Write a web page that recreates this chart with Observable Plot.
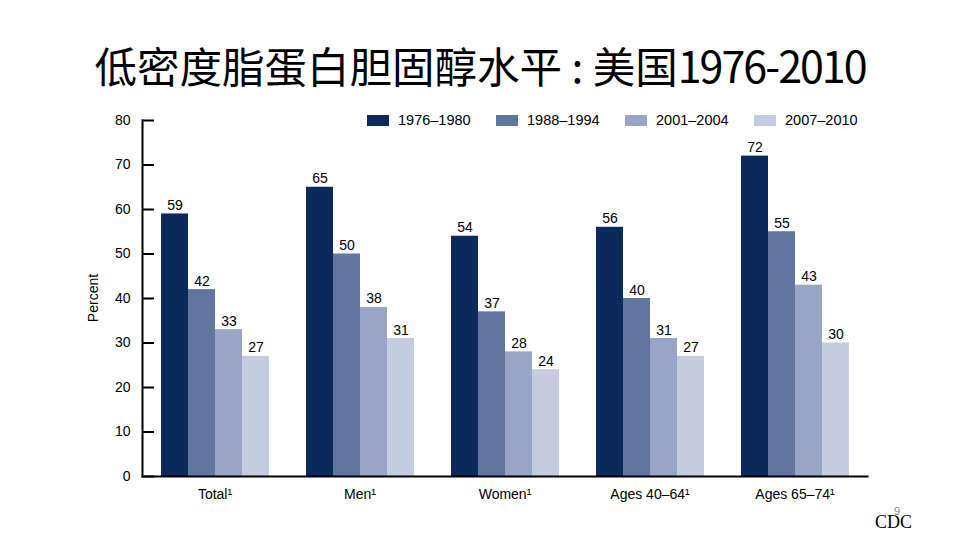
<!DOCTYPE html>
<html>
<head>
<meta charset="utf-8">
<script src="https://cdn.jsdelivr.net/npm/d3@7"></script>
<script src="https://cdn.jsdelivr.net/npm/@observablehq/plot@0.6"></script>
<style>
  html, body { margin: 0; padding: 0; background: #fff; }
  #page { position: relative; width: 960px; height: 540px; overflow: hidden; background: #fff; }
  #title { position: absolute; left: 0; width: 960px; top: 36px; text-align: center; white-space: nowrap;
    font-family: "Noto Sans CJK SC", sans-serif; font-size: 42.5px; line-height: 56px; color: #000; }
  #title .num { font-size: 43px; letter-spacing: -2px; }
  #chart { position: absolute; left: 0; top: 100px; }
  #ylabel { position: absolute; left: 93px; top: 298px; transform: translate(-50%, -50%) rotate(-90deg);
    font-family: "Liberation Sans", Arial, sans-serif; font-size: 14px; color: #000; white-space: nowrap; }
  #legend { position: absolute; left: 367px; top: 110px; display: flex;
    font-family: "Liberation Sans", Arial, sans-serif; font-size: 14.5px; color: #000; }
  .item { display: flex; align-items: center; width: 129px; height: 20px; }
  .sw { width: 22px; height: 11px; margin-right: 9px; }
  #cdc { position: absolute; left: 875px; top: 512px; font-family: "Liberation Serif", "Times New Roman", serif;
    font-size: 18px; color: #000; }
  #pnum { position: absolute; left: 894px; top: 505px; font-family: "Liberation Sans", Arial, sans-serif;
    font-size: 11px; color: #8a8a8a; }
</style>
</head>
<body>
<div id="page">
  <div id="title">低密度脂蛋白胆固醇水平 : 美国<span class="num">1976-2010</span></div>
  <div id="chart"></div>
  <div id="ylabel">Percent</div>
  <div id="legend"></div>
  <div id="pnum">9</div>
  <div id="cdc">CDC</div>
</div>
<script>
const groups = ["Total¹", "Men¹", "Women¹", "Ages 40–64¹", "Ages 65–74¹"];
const periods = ["1976–1980", "1988–1994", "2001–2004", "2007–2010"];
const v1976_1980 = [59, 65, 54, 56, 72];
const v1988_1994 = [42, 50, 37, 40, 55];
const v2001_2004 = [33, 38, 28, 31, 43];
const v2007_2010 = [27, 31, 24, 27, 30];
const yTicks = [0, 10, 20, 30, 40, 50, 60, 70, 80];
const colors = ["#0b2a5b", "#61769f", "#98a5c6", "#c5cce1"];

const series = [v1976_1980, v1988_1994, v2001_2004, v2007_2010];
const data = groups.flatMap((g, gi) => periods.map((p, pi) => ({group: g, period: p, value: series[pi][gi]})));

const chart = Plot.plot({
  width: 960,
  height: 420,
  marginTop: 20,
  marginBottom: 44,
  marginLeft: 140,
  marginRight: 92,
  style: {fontFamily: "'Liberation Sans', Arial, sans-serif", fontSize: "14px", color: "#000", background: "transparent"},
  fx: {domain: groups, paddingInner: 0, paddingOuter: 0, label: null},
  x: {domain: periods, paddingInner: 0, paddingOuter: 0.667, axis: null},
  y: {domain: [0, 80], label: null},
  color: {domain: periods, range: colors},
  marks: [
    Plot.barY(data, {fx: "group", x: "period", y: "value", fill: "period"}),
    Plot.text(data, {fx: "group", x: "period", y: "value", text: d => String(d.value), lineAnchor: "bottom", dy: -4, fill: "#000", fontSize: 14}),
    Plot.frame({anchor: "left", facet: "super", stroke: "#000", strokeWidth: 2}),
    Plot.frame({anchor: "bottom", facet: "super", stroke: "#000", strokeWidth: 2}),
    Plot.axisY({ticks: yTicks, tickSize: 0, tickPadding: 12, label: null, fontSize: 14}),
    Plot.axisY({ticks: yTicks, tickSize: -12, tickFormat: () => "", label: null, strokeWidth: 2, stroke: "#000"}),
    Plot.axisFx({anchor: "bottom", tickSize: 0, tickPadding: 13, label: null, fontSize: 14})
  ]
});
document.getElementById("chart").appendChild(chart);

const legend = document.getElementById("legend");
periods.forEach((p, i) => {
  const it = document.createElement("div");
  it.className = "item";
  const sw = document.createElement("span");
  sw.className = "sw";
  sw.style.background = colors[i];
  const tx = document.createElement("span");
  tx.textContent = p;
  it.appendChild(sw);
  it.appendChild(tx);
  legend.appendChild(it);
});
</script>
</body>
</html>
